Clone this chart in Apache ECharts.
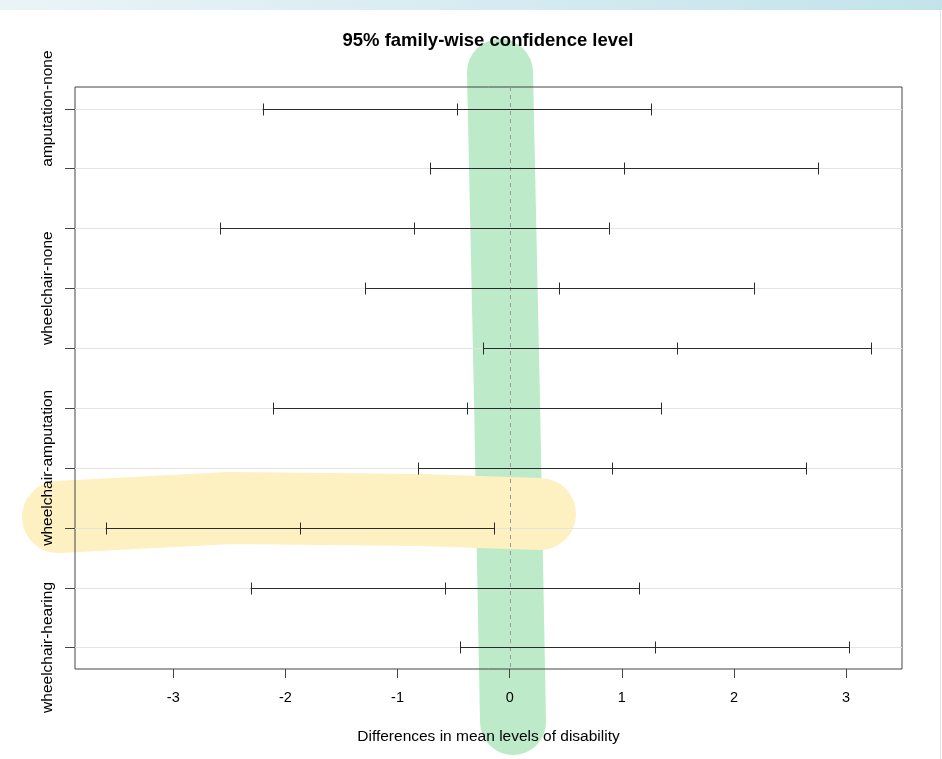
<!DOCTYPE html>
<html>
<head>
<meta charset="utf-8">
<script src="https://cdn.jsdelivr.net/npm/echarts@6/dist/echarts.min.js"></script>
<style>
  html, body { margin: 0; padding: 0; background: #fff; }
  #chart { width: 942px; height: 759px; }
</style>
</head>
<body>
<div id="chart"></div>
<script>
// Tukey HSD comparisons, top row first
const comparisons = [
  'amputation-none', 'crutches-none', 'hearing-none', 'wheelchair-none',
  'crutches-amputation', 'hearing-amputation', 'wheelchair-amputation',
  'hearing-crutches', 'wheelchair-crutches', 'wheelchair-hearing'
]
const diffs  = [-0.471, 1.021, -0.850, 0.443, 1.493, -0.379, 0.914, -1.871, -0.579, 1.293]
const lowers = [-2.203, -0.710, -2.582, -1.289, -0.239, -2.110, -0.817, -3.603, -2.310, -0.439]
const uppers = [1.260, 2.753, 0.882, 2.175, 3.225, 1.353, 2.646, -0.140, 1.153, 3.025]
const xTicks = [-3, -2, -1, 0, 1, 2, 3]
const rowsLabelled = [1, 4, 7, 10]

const title = '95% family-wise confidence level'
const xName = 'Differences in mean levels of disability'

// R style 4% padding on both axes
const lo = Math.min(...lowers), hi = Math.max(...uppers)
const xPad = (hi - lo) * 0.04
const xMin = lo - xPad, xMax = hi + xPad
const nRows = comparisons.length
const yPad = (nRows - 1) * 0.04
const yMin = 1 - yPad, yMax = nRows + yPad
const rows = comparisons.map((c, i) => i + 1)

const ink = '#2b2b2b'
const crisp = v => Math.round(v) + 0.5

const chart = echarts.init(document.getElementById('chart'))
chart.setOption({
  backgroundColor: '#fff',
  animation: false,
  textStyle: { fontFamily: 'Liberation Sans, Arial, sans-serif' },
  title: {
    text: title,
    left: 483,
    top: 26,
    textAlign: 'center',
    textStyle: { fontSize: 18.5, fontWeight: 'bold', color: '#000', fontFamily: 'Liberation Sans, Arial, sans-serif' }
  },
  grid: {
    left: 75, right: 40, top: 87, bottom: 90,
    show: true, borderColor: '#444', borderWidth: 1, backgroundColor: 'transparent'
  },
  xAxis: {
    type: 'value',
    min: xMin,
    max: xMax,
    name: xName,
    nameLocation: 'middle',
    nameGap: 60,
    nameTextStyle: { fontSize: 15.5, color: '#000' },
    axisLine: { show: false },
    axisTick: { show: true, inside: false, length: 9, customValues: xTicks, lineStyle: { color: '#444' } },
    axisLabel: { customValues: xTicks, fontSize: 14.5, color: '#000', margin: 21 },
    splitLine: { show: false }
  },
  yAxis: {
    type: 'value',
    inverse: true,
    min: yMin,
    max: yMax,
    axisLine: { show: false },
    axisTick: { show: false },
    axisLabel: {
      customValues: rowsLabelled,
      rotate: 90,
      fontSize: 15.5,
      color: '#000',
      margin: 19,
      formatter: v => comparisons[Math.round(v) - 1]
    },
    splitLine: { show: false }
  },
  graphic: [
    // screenshot strip at the top
    {
      type: 'rect', z: -2,
      shape: { x: 0, y: 0, width: 942, height: 10 },
      style: {
        fill: new echarts.graphic.LinearGradient(0, 0, 1, 0, [
          { offset: 0, color: '#eaf4f7' },
          { offset: 1, color: '#c3e3eb' }
        ])
      }
    },
    { type: 'rect', z: -2, shape: { x: 940, y: 10, width: 1, height: 749 }, style: { fill: '#e4e4e4' } },
    // highlighter strokes
    {
      type: 'polyline', z: -1,
      shape: { points: [[500, 72], [507, 400], [513, 722]] },
      style: { stroke: '#bdebc9', lineWidth: 66, lineCap: 'round', lineJoin: 'round', fill: null }
    },
    {
      type: 'polyline', z: -1,
      shape: { points: [[58, 517], [230, 508], [420, 510], [540, 514]] },
      style: { stroke: '#fdf0c1', lineWidth: 72, lineCap: 'round', lineJoin: 'round', fill: null }
    }
  ],
  series: [
    {
      // light horizontal guides and the outside y ticks
      type: 'custom',
      silent: true,
      clip: false,
      z: 1,
      data: rows.map(r => [r]),
      encode: { y: 0 },
      renderItem(params, api) {
        const r = api.value(0)
        const a = api.coord([xMin, r])
        const b = api.coord([xMax, r])
        const y = crisp(a[1])
        return {
          type: 'group',
          children: [
            { type: 'line', shape: { x1: a[0], y1: y, x2: b[0], y2: y }, style: { stroke: '#e4e4e4', lineWidth: 1 } },
            { type: 'line', shape: { x1: a[0] - 10, y1: y, x2: a[0], y2: y }, style: { stroke: '#444', lineWidth: 1 } }
          ]
        }
      }
    },
    {
      // dashed reference line at zero
      type: 'custom',
      silent: true,
      z: 2,
      data: [[0]],
      encode: { x: 0 },
      renderItem(params, api) {
        const v = api.value(0)
        const a = api.coord([v, yMin])
        const b = api.coord([v, yMax])
        const x = crisp(a[0])
        return {
          type: 'line',
          shape: { x1: x, y1: a[1], x2: x, y2: b[1] },
          style: { stroke: '#999', lineWidth: 1, lineDash: [4, 4] }
        }
      }
    },
    {
      type: 'custom',
      silent: true,
      z: 3,
      data: rows.map((r, i) => [r, lowers[i], diffs[i], uppers[i]]),
      encode: { y: 0, x: [1, 2, 3] },
      renderItem(params, api) {
        const r = api.value(0)
        const pts = [api.value(1), api.value(2), api.value(3)].map(v => api.coord([v, r]))
        const y = crisp(pts[0][1])
        const h = 6
        const children = [{
          type: 'line',
          shape: { x1: pts[0][0], y1: y, x2: pts[2][0], y2: y },
          style: { stroke: ink, lineWidth: 1 }
        }]
        pts.forEach(p => {
          const x = crisp(p[0])
          children.push({
            type: 'line',
            shape: { x1: x, y1: y - h, x2: x, y2: y + h },
            style: { stroke: ink, lineWidth: 1 }
          })
        })
        return { type: 'group', children }
      }
    }
  ]
})
</script>
</body>
</html>
